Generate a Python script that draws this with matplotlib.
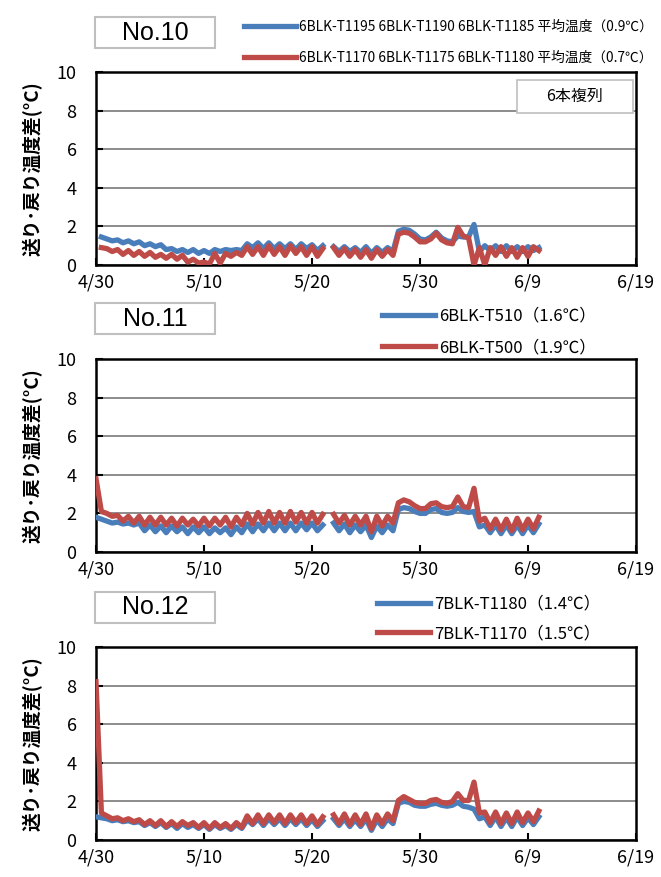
import matplotlib
matplotlib.use("Agg")
import matplotlib.pyplot as plt
from matplotlib.patches import Rectangle
import numpy as np
import pandas as pd

plt.rcParams['font.family'] = ['Noto Sans CJK JP', 'DejaVu Sans']

# =========================
# DATA (12 hour steps from 4/30)
# =========================

times = pd.date_range("2019-04-30", periods=83, freq="12h")
nan = np.nan

no10_blue = [
    nan, 1.45, 1.35, 1.25, 1.3, 1.15, 1.25, 1.1, 1.2, 1.0,
    1.1, 0.95, 1.05, 0.8, 0.85, 0.7, 0.8, 0.65, 0.8, 0.6,
    0.75, 0.6, 0.8, 0.7, 0.8, 0.75, 0.8, 0.75, 1.1, 0.9,
    1.15, 0.85, 1.15, 0.85, 1.1, 0.85, 1.1, 0.8, 1.1, 0.85,
    1.05, 0.75, 1.0, nan, 0.95, 0.7, 0.95, 0.7, 0.9, 0.65,
    0.95, 0.6, 0.9, 0.65, 0.9, 0.7, 1.75, 1.85, 1.8, 1.6,
    1.35, 1.3, 1.45, 1.7, 1.4, 1.25, 1.2, 1.5, 1.45, 1.45,
    2.1, 0.7, 1.0, 0.75, 1.0, 0.7, 1.0, 0.7, 0.95, 0.7,
    0.95, 0.75, 0.9,
]
no10_red = [
    nan, 0.9, 0.85, 0.7, 0.8, 0.55, 0.75, 0.5, 0.7, 0.45,
    0.65, 0.4, 0.55, 0.35, 0.55, 0.3, 0.5, 0.15, 0.3, 0.1,
    0.15, 0.05, 0.6, 0.1, 0.6, 0.45, 0.65, 0.5, 0.95, 0.55,
    0.95, 0.5, 1.0, 0.55, 0.95, 0.5, 1.0, 0.6, 0.95, 0.5,
    0.95, 0.45, 0.85, nan, 0.9, 0.5, 0.85, 0.45, 0.8, 0.4,
    0.8, 0.35, 0.8, 0.45, 0.8, 0.5, 1.6, 1.7, 1.65, 1.45,
    1.2, 1.2, 1.35, 1.65, 1.3, 1.15, 1.1, 1.95, 1.5, 1.4,
    0.0, 0.9, 0.0, 0.9, 0.5, 0.95, 0.45, 0.9, 0.4, 0.9,
    0.45, 0.95, 0.75,
]

no11_blue = [
    1.8, 1.7, 1.6, 1.5, 1.55, 1.45, 1.5, 1.4, 1.5, 1.1,
    1.4, 1.05, 1.35, 1.0, 1.35, 1.05, 1.3, 0.95, 1.3, 1.0,
    1.3, 0.95, 1.25, 1.0, 1.25, 0.9, 1.3, 1.0, 1.45, 1.05,
    1.45, 1.1, 1.5, 1.1, 1.5, 1.1, 1.5, 1.1, 1.5, 1.15,
    1.5, 1.1, 1.4, nan, 1.5, 1.1, 1.45, 1.0, 1.4, 1.05,
    1.4, 0.75, 1.35, 1.0, 1.4, 1.1, 2.2, 2.3, 2.25, 2.1,
    2.0, 2.0, 2.2, 2.25, 2.05, 2.0, 2.05, 2.3, 2.1, 2.05,
    2.1, 1.3, 1.4, 1.0, 1.4, 0.95, 1.4, 0.95, 1.4, 0.95,
    1.4, 1.0, 1.45,
]
no11_red = [
    3.8, 2.1, 2.0, 1.85, 1.9, 1.6, 1.85, 1.5, 1.85, 1.4,
    1.8, 1.4, 1.8, 1.4, 1.75, 1.35, 1.75, 1.4, 1.7, 1.35,
    1.75, 1.35, 1.75, 1.4, 1.8, 1.3, 1.8, 1.4, 2.0, 1.45,
    2.05, 1.5, 2.1, 1.5, 2.05, 1.5, 2.1, 1.55, 2.05, 1.5,
    2.05, 1.5, 1.95, nan, 1.95, 1.5, 1.9, 1.4, 1.85, 1.4,
    1.85, 1.05, 1.85, 1.35, 1.85, 1.5, 2.55, 2.7, 2.6, 2.4,
    2.25, 2.25, 2.5, 2.55, 2.35, 2.3, 2.35, 2.85, 2.35, 2.3,
    3.3, 1.6, 1.75, 1.2, 1.7, 1.15, 1.7, 1.1, 1.75, 1.15,
    1.7, 1.2, 1.8,
]

no12_blue = [
    1.2, 1.15, 1.1, 1.0, 1.05, 0.95, 1.0, 0.9, 0.95, 0.75,
    0.9, 0.7, 0.9, 0.65, 0.85, 0.6, 0.85, 0.65, 0.8, 0.6,
    0.8, 0.55, 0.8, 0.6, 0.75, 0.55, 0.8, 0.6, 1.05, 0.8,
    1.1, 0.75, 1.1, 0.8, 1.1, 0.75, 1.1, 0.8, 1.1, 0.75,
    1.05, 0.7, 1.0, nan, 1.1, 0.75, 1.1, 0.7, 1.05, 0.7,
    1.1, 0.5, 1.05, 0.7, 1.1, 0.85, 1.9, 2.0, 1.95, 1.8,
    1.75, 1.75, 1.85, 1.9, 1.8, 1.75, 1.8, 1.95, 1.75, 1.7,
    1.6, 1.1, 1.2, 0.75, 1.2, 0.7, 1.15, 0.7, 1.2, 0.75,
    1.15, 0.8, 1.2,
]
no12_red = [
    8.2, 1.4, 1.25, 1.1, 1.15, 1.0, 1.1, 0.95, 1.05, 0.8,
    1.0, 0.75, 1.0, 0.7, 0.95, 0.7, 0.95, 0.75, 0.9, 0.65,
    0.9, 0.6, 0.9, 0.65, 0.85, 0.6, 0.9, 0.65, 1.25, 0.85,
    1.3, 0.85, 1.3, 0.9, 1.3, 0.85, 1.3, 0.9, 1.3, 0.85,
    1.25, 0.8, 1.2, nan, 1.3, 0.85, 1.35, 0.8, 1.3, 0.8,
    1.35, 0.6, 1.3, 0.85, 1.35, 1.0, 2.05, 2.25, 2.1, 1.95,
    1.9, 1.9, 2.05, 2.1, 1.95, 1.9, 2.0, 2.4, 2.05, 2.05,
    3.0, 1.4, 1.45, 0.9, 1.45, 0.85, 1.4, 0.85, 1.45, 0.9,
    1.4, 0.95, 1.5,
]

panels = [
    ("No.10",
     no10_blue, "6BLK-T1195 6BLK-T1190 6BLK-T1185 平均温度（0.9℃）",
     no10_red, "6BLK-T1170 6BLK-T1175 6BLK-T1180 平均温度（0.7℃）"),
    ("No.11",
     no11_blue, "6BLK-T510（1.6℃）",
     no11_red, "6BLK-T500（1.9℃）"),
    ("No.12",
     no12_blue, "7BLK-T1180（1.4℃）",
     no12_red, "7BLK-T1170（1.5℃）"),
]

tick_dates = pd.date_range("2019-04-30", periods=6, freq="10D")

BLUE = "#4A7EBB"
RED = "#BE4B48"

# =========================
# FIGURE
# =========================

W, H = 661, 877
fig = plt.figure(figsize=(W / 100, H / 100), dpi=100)

ax_left = 96
ax_w = 540
ax_h = 193
ax_bottoms = [265, 552, 840]
title_tops = [17, 303, 592]
# x, row centre, fontsize, handlelength, labelspacing
legend_pos = [(244, 42, 9.9, 3.8, 1.22),
              (382, 332, 12, 3.2, 0.86),
              (377, 619, 12, 3.2, 0.74)]

for k, (name, yb, lb, yr, lr) in enumerate(panels):
    ax = fig.add_axes([ax_left / W, 1 - ax_bottoms[k] / H, ax_w / W, ax_h / H])

    lb_line, = ax.plot(times, yb, color=BLUE, lw=3.8, label=lb, zorder=3)
    lr_line, = ax.plot(times, yr, color=RED, lw=3.8, label=lr, zorder=4)

    ax.set_ylim(0, 10)
    ax.set_yticks([0, 2, 4, 6, 8, 10])
    ax.set_xlim(tick_dates[0], tick_dates[-1])
    ax.set_xticks(tick_dates)
    ax.set_xticklabels([f"{d.month}/{d.day}" for d in tick_dates])
    ax.grid(axis='y', color="#8C8C8C", lw=1.4)
    ax.set_axisbelow(True)
    for s in ax.spines.values():
        s.set_linewidth(1.8)
        s.set_color("black")
    ax.tick_params(direction='in', length=5, width=1.5, labelsize=13)
    ax.tick_params(axis='y', pad=14)
    ax.tick_params(axis='x', pad=6)

    ax.set_ylabel("送り･戻り温度差(°C)", fontsize=13.5, fontweight='bold', labelpad=10)

    # title box
    fig.add_artist(Rectangle((95 / W, 1 - (title_tops[k] + 31) / H), 120 / W, 31 / H,
                             transform=fig.transFigure, facecolor='white',
                             edgecolor="#BFBFBF", lw=1.5))
    fig.text(155 / W, 1 - (title_tops[k] + 15.5) / H, name, fontsize=18,
             ha='center', va='center', family=['Liberation Sans', 'DejaVu Sans'])

    lx, ly, fs, hl, ls = legend_pos[k]
    ax.legend(handles=[lb_line, lr_line], loc='center left',
              bbox_to_anchor=(lx / W, 1 - ly / H), bbox_transform=fig.transFigure,
              frameon=False, fontsize=fs, handlelength=hl, handletextpad=0.2,
              borderpad=0, borderaxespad=0, labelspacing=ls)

    if k == 0:
        ax.add_patch(Rectangle((0.78, 0.788), 0.214, 0.171, transform=ax.transAxes,
                               facecolor='white', edgecolor="#BFBFBF", lw=1.2, zorder=5))
        ax.text(0.887, 0.873, "6本複列", transform=ax.transAxes, fontsize=11.5,
                ha='center', va='center', zorder=6)

fig.savefig("out.png", dpi=100)
